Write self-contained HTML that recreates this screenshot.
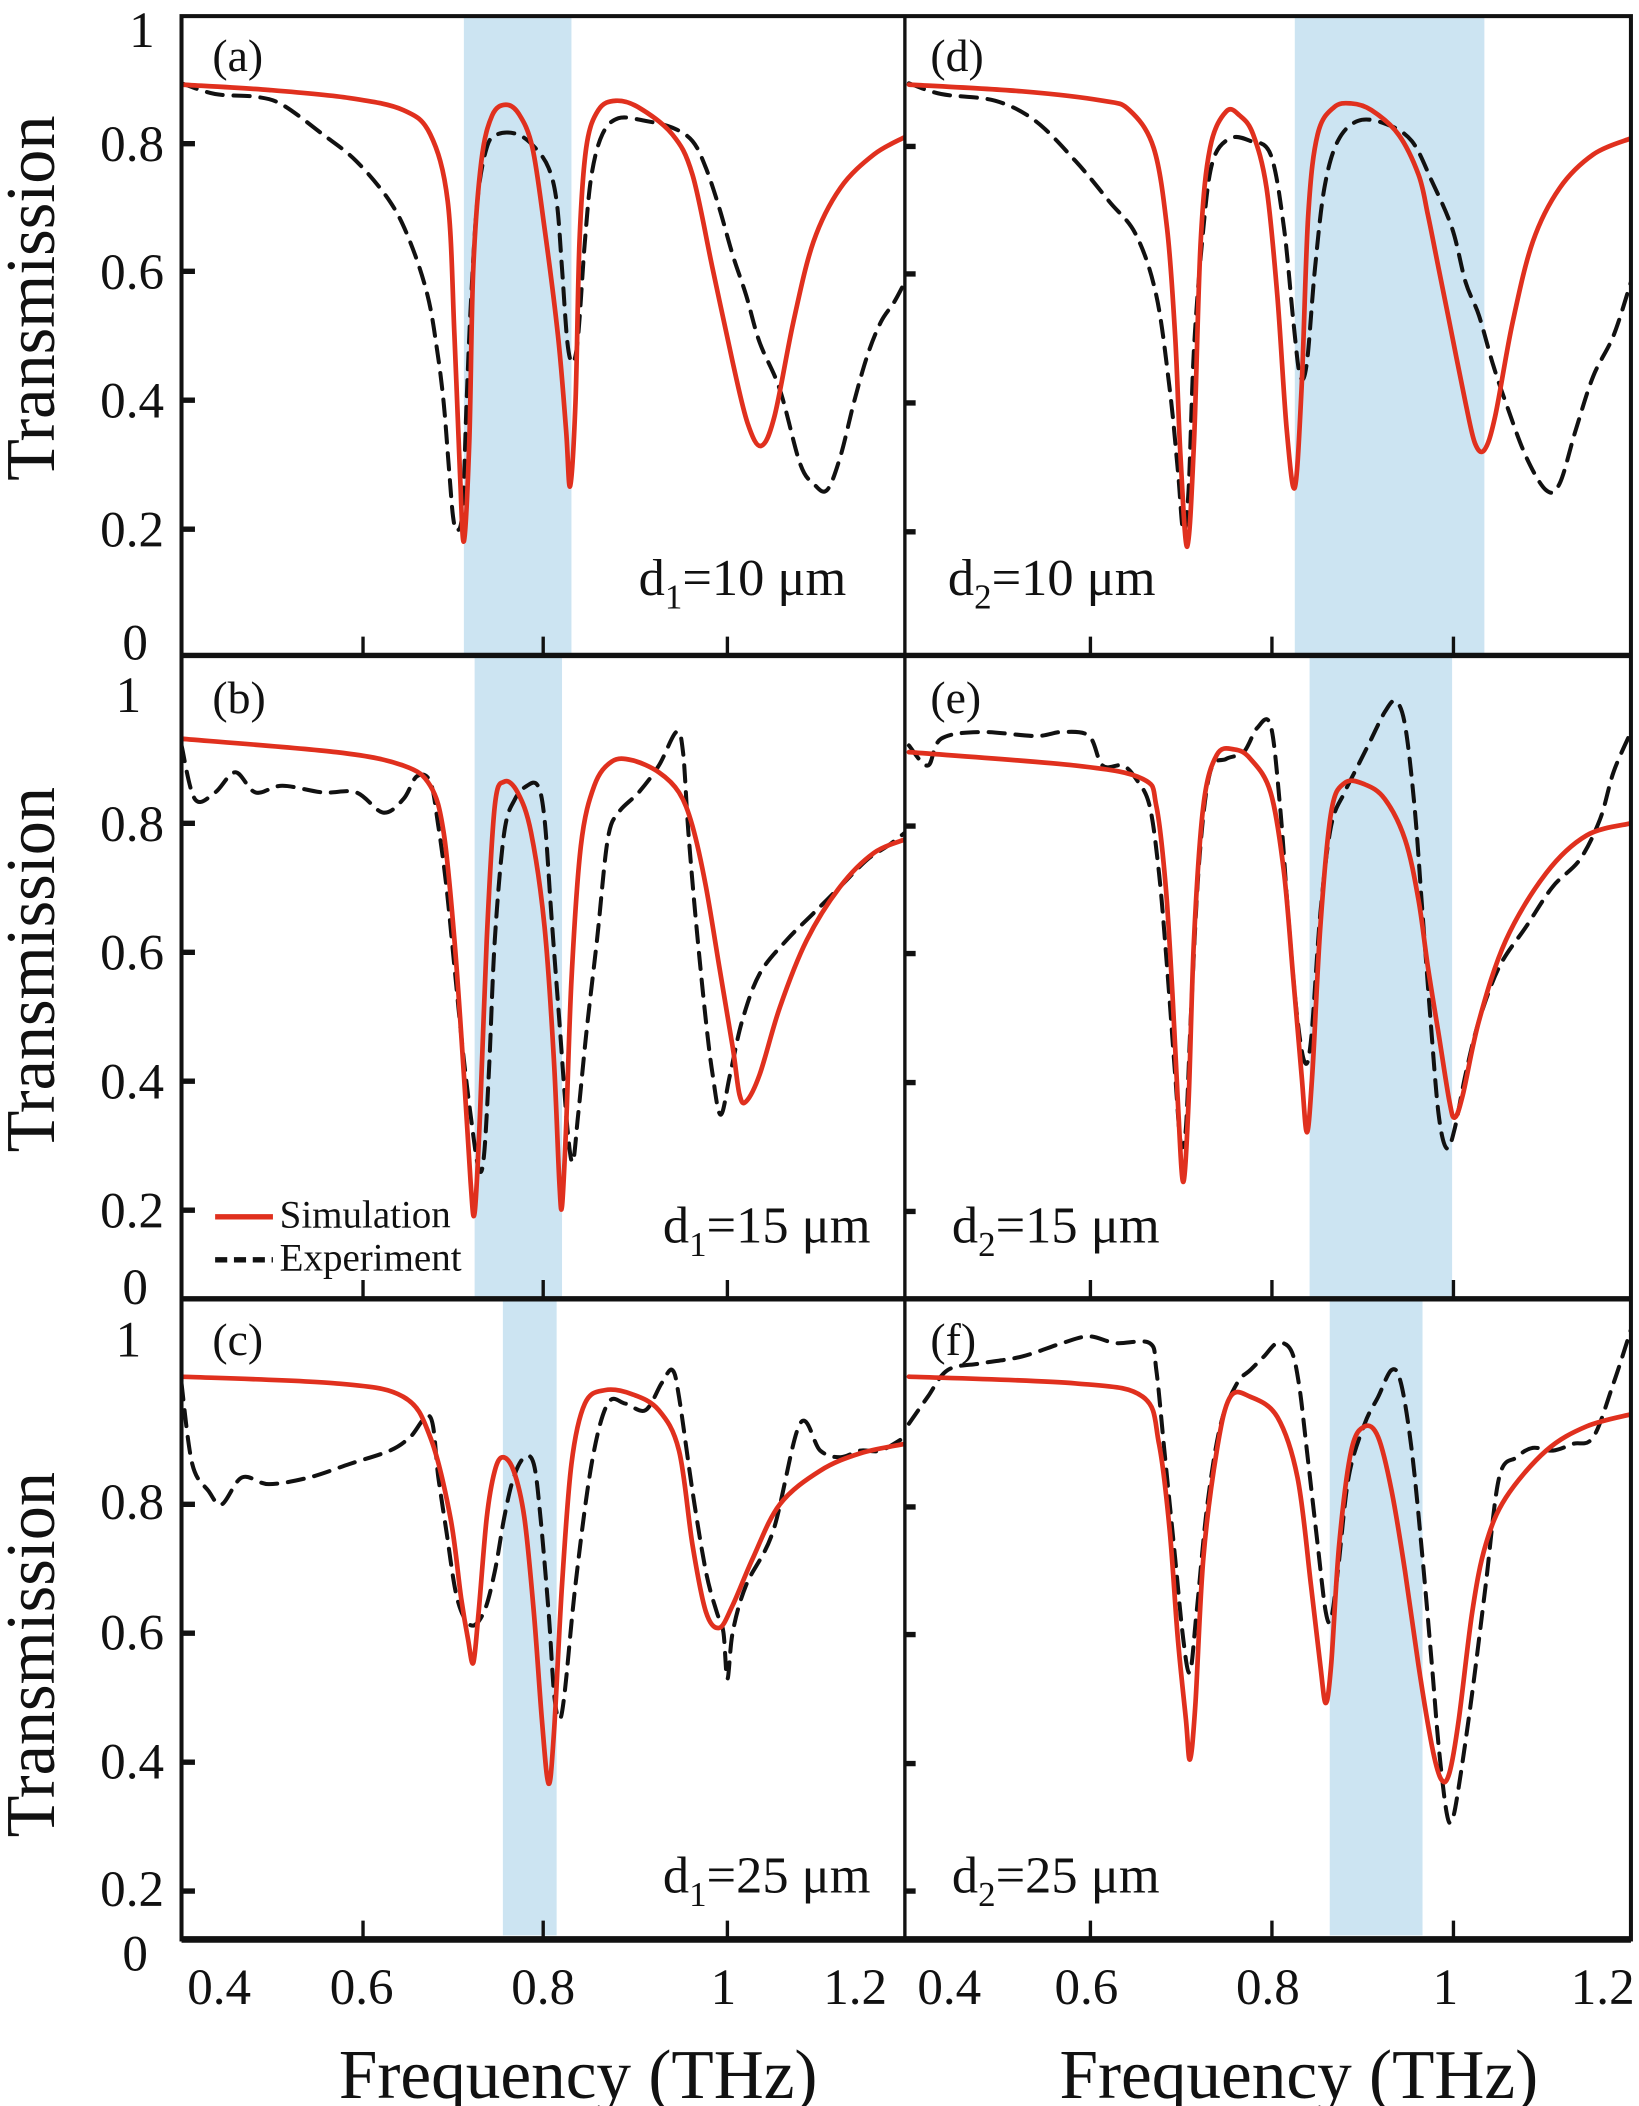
<!DOCTYPE html>
<html><head><meta charset="utf-8"><style>html,body{margin:0;padding:0;background:#fff}svg{display:block}</style></head><body>
<svg id="S" width="1639" height="2106" viewBox="0 0 1219 1568" preserveAspectRatio="none" xmlns="http://www.w3.org/2000/svg" font-family="'Liberation Serif', serif">
<defs>
<clipPath id="ca"><rect x="135" y="12" width="538" height="476"/></clipPath>
<clipPath id="cd"><rect x="673" y="12" width="540" height="476"/></clipPath>
<clipPath id="cb"><rect x="135" y="488" width="538" height="479"/></clipPath>
<clipPath id="ce"><rect x="673" y="488" width="540" height="479"/></clipPath>
<clipPath id="cc"><rect x="135" y="967" width="538" height="477"/></clipPath>
<clipPath id="cf"><rect x="673" y="967" width="540" height="477"/></clipPath>
</defs>
<g fill="#cce4f2">
<rect x="345" y="12" width="80" height="476"/>
<rect x="963" y="12" width="141" height="476"/>
<rect x="353" y="488" width="65" height="479"/>
<rect x="974" y="488" width="106" height="479"/>
<rect x="374" y="967" width="40" height="474"/>
<rect x="989" y="967" width="69" height="474"/>
</g>
<g fill="none" stroke-linejoin="round" stroke-linecap="round">
<g clip-path="url(#ca)">
<polyline stroke="#111" stroke-width="3" stroke-dasharray="12,8" points="135,62 160,70 190,72 210,78 240,100 265,120 290,150 305,180 318,220 325,260 330,300 334,350 337,385 340,395 344,380 347,300 350,230 355,150 362,110 370,100 385,100 398,110 408,125 414,150 418,200 422,255 426,270 430,250 435,180 440,130 448,100 460,88 480,90 500,95 515,105 525,125 535,155 545,190 555,220 565,255 580,290 595,345 605,360 615,365 625,340 635,300 645,265 655,240 665,225 673,210"/>
<polyline stroke="#e0301e" stroke-width="3.5" points="135,63 200,67 260,73 300,82 320,100 333,150 338,250 342,350 345,403 349,330 352,200 358,120 366,86 376,78 386,85 396,110 405,170 415,250 421,320 424,362 428,300 431,180 436,110 445,82 458,75 475,80 500,100 515,130 530,200 545,270 556,315 566,332 576,310 590,240 605,180 625,140 650,115 673,102"/>
</g>
<g clip-path="url(#cd)">
<polyline stroke="#111" stroke-width="3" stroke-dasharray="12,8" points="676,62 700,70 740,75 770,90 800,120 825,150 845,175 860,220 870,290 876,350 880,395 884,365 888,260 895,170 902,120 915,103 930,105 945,115 955,170 962,240 967,280 972,270 978,200 985,140 995,105 1010,90 1030,92 1050,105 1065,135 1080,170 1090,210 1100,235 1110,270 1120,300 1135,340 1150,365 1160,360 1172,320 1185,280 1200,250 1213,210"/>
<polyline stroke="#e0301e" stroke-width="3.5" points="676,63 760,68 820,75 840,82 858,110 868,170 874,250 878,340 883,407 888,330 893,180 900,110 912,83 922,86 932,100 942,140 950,220 957,320 963,363 968,290 973,160 980,100 992,80 1005,77 1020,82 1040,100 1055,130 1062,160 1070,200 1080,250 1090,300 1097,330 1104,335 1112,310 1125,240 1140,180 1160,140 1185,115 1213,103"/>
</g>
<g clip-path="url(#cb)">
<polyline stroke="#111" stroke-width="3" stroke-dasharray="12,8" points="135,555 145,595 160,590 175,575 190,590 210,585 240,590 265,590 285,605 300,595 310,578 320,582 326,615 332,660 338,720 344,780 350,830 356,870 360,860 364,790 368,700 375,620 383,595 392,585 400,585 405,610 410,680 416,760 422,840 426,865 430,830 436,770 444,700 452,625 460,605 475,590 490,570 503,545 508,560 512,620 518,690 525,760 530,800 536,830 543,800 552,760 565,725 585,700 605,680 625,660 645,640 660,630 673,620"/>
<polyline stroke="#e0301e" stroke-width="3.5" points="135,550 250,560 300,570 320,585 330,620 338,700 345,800 350,880 353,903 357,830 362,700 368,600 375,582 385,590 395,620 405,690 412,790 416,880 418,898 421,840 425,730 432,630 442,585 455,567 470,566 490,575 505,590 515,615 525,660 535,720 545,780 550,815 555,820 565,800 580,750 600,700 625,660 650,635 673,625"/>
</g>
<g clip-path="url(#ce)">
<polyline stroke="#111" stroke-width="3" stroke-dasharray="12,8" points="676,555 690,570 700,550 730,545 770,548 790,545 810,548 820,570 835,570 845,580 855,600 862,650 868,720 874,800 878,850 882,840 886,750 892,640 900,575 912,565 925,560 935,542 945,540 952,600 958,680 964,750 970,790 975,775 982,680 990,615 1000,590 1010,570 1020,550 1030,530 1038,522 1045,540 1052,600 1058,680 1064,760 1070,830 1076,855 1082,840 1090,800 1100,760 1115,720 1135,690 1155,660 1175,640 1190,610 1200,575 1213,545"/>
<polyline stroke="#e0301e" stroke-width="3.5" points="676,560 800,570 850,580 860,600 867,660 872,740 876,820 880,880 884,820 888,700 895,600 905,562 918,558 930,565 945,590 955,650 962,730 968,800 972,843 976,800 982,690 990,605 1000,583 1015,584 1030,595 1045,625 1055,670 1062,720 1070,770 1078,820 1082,832 1088,815 1100,760 1120,700 1150,650 1180,622 1213,613"/>
</g>
<g clip-path="url(#cc)">
<polyline stroke="#111" stroke-width="3" stroke-dasharray="12,8" points="135,1030 143,1090 155,1110 165,1120 180,1100 200,1105 230,1100 260,1090 290,1080 305,1070 320,1055 326,1100 332,1140 340,1190 350,1210 360,1200 368,1170 375,1130 382,1100 390,1085 397,1090 402,1130 408,1200 412,1260 416,1280 420,1260 428,1180 440,1090 452,1045 465,1045 480,1050 492,1030 500,1020 505,1040 515,1110 525,1170 533,1200 538,1215 541,1250 545,1215 555,1180 575,1140 595,1060 610,1080 625,1085 640,1080 655,1080 673,1070"/>
<polyline stroke="#e0301e" stroke-width="3.5" points="135,1025 250,1030 300,1040 320,1070 335,1130 343,1190 348,1220 352,1238 356,1200 362,1130 368,1095 374,1085 382,1095 390,1130 397,1200 403,1280 408,1328 412,1290 418,1180 425,1090 435,1045 450,1035 470,1038 490,1050 505,1080 515,1150 525,1200 535,1212 545,1195 560,1160 580,1120 610,1095 640,1082 673,1075"/>
</g>
<g clip-path="url(#cf)">
<polyline stroke="#111" stroke-width="3" stroke-dasharray="12,8" points="676,1060 690,1040 705,1020 730,1015 760,1010 790,1000 810,995 830,1000 855,1000 860,1020 866,1080 874,1160 880,1220 885,1245 890,1200 898,1120 908,1060 920,1030 930,1020 940,1010 950,1000 960,1005 966,1030 972,1080 980,1150 986,1200 990,1205 995,1170 1003,1100 1015,1060 1025,1040 1035,1020 1042,1030 1050,1080 1058,1160 1065,1240 1070,1300 1076,1350 1080,1355 1085,1330 1095,1260 1105,1180 1115,1100 1128,1085 1140,1078 1155,1080 1170,1075 1185,1070 1200,1030 1213,990"/>
<polyline stroke="#e0301e" stroke-width="3.5" points="676,1025 800,1030 850,1040 862,1075 870,1140 876,1220 882,1280 885,1310 889,1270 895,1160 905,1080 915,1040 930,1040 950,1055 965,1100 975,1180 982,1240 986,1268 990,1240 996,1150 1005,1080 1015,1062 1025,1070 1035,1110 1045,1170 1055,1240 1065,1300 1072,1325 1078,1320 1085,1280 1095,1200 1105,1150 1120,1115 1150,1080 1180,1062 1213,1053"/>
</g>
</g>
<g stroke="#111" fill="none">
<rect x="135" y="12" width="1078" height="1432" stroke-width="3"/>
<line x1="135" y1="488" x2="1213" y2="488" stroke-width="4"/>
<line x1="135" y1="967" x2="1213" y2="967" stroke-width="4"/>
<line x1="135" y1="1444" x2="1213" y2="1444" stroke-width="5"/>
<line x1="673" y1="12" x2="673" y2="1444" stroke-width="2.5"/>
<g stroke-width="2.5">
<path d="M270,488v-14M404,488v-14M541,488v-14M811,488v-14M946,488v-14M1081,488v-14"/>
<path d="M270,967v-14M404,967v-14M541,967v-14M811,967v-14M946,967v-14M1081,967v-14"/>
<path d="M270,1444v-14M404,1444v-14M541,1444v-14M811,1444v-14M946,1444v-14M1081,1444v-14"/>
</g>
<g stroke-width="4">
<path d="M135,107h10M135,202h10M135,298h10M135,394h10M673,109h8M673,204h8M673,300h8M673,396h8"/>
<path d="M135,613h10M135,709h10M135,805h10M135,901h10M673,615h8M673,710h8M673,806h8M673,902h8"/>
<path d="M135,1120h10M135,1216h10M135,1312h10M135,1408h10M673,1122h8M673,1217h8M673,1313h8M673,1408h8"/>
</g>
</g>
<g font-size="38" text-anchor="end" fill="#111">
<text x="115" y="35">1</text><text x="122" y="120">0.8</text><text x="122" y="215">0.6</text><text x="122" y="311">0.4</text><text x="122" y="407">0.2</text><text x="110" y="491">0</text>
<text x="105" y="530">1</text><text x="122" y="626">0.8</text><text x="122" y="722">0.6</text><text x="122" y="818">0.4</text><text x="122" y="914">0.2</text><text x="110" y="971">0</text>
<text x="105" y="1010">1</text><text x="122" y="1131">0.8</text><text x="122" y="1228">0.6</text><text x="122" y="1324">0.4</text><text x="122" y="1419">0.2</text><text x="110" y="1467">0</text>
</g>
<g font-size="38" text-anchor="middle" fill="#111">
<text x="163" y="1492">0.4</text><text x="269" y="1492">0.6</text><text x="404" y="1492">0.8</text><text x="538" y="1492">1</text><text x="636" y="1492">1.2</text>
<text x="706" y="1492">0.4</text><text x="808" y="1492">0.6</text><text x="943" y="1492">0.8</text><text x="1075" y="1492">1</text><text x="1192" y="1492">1.2</text>
</g>
<g font-size="52" fill="#111" text-anchor="middle">
<text x="430" y="1562" textLength="356" lengthAdjust="spacingAndGlyphs">Frequency (THz)</text>
<text x="966" y="1562" textLength="356" lengthAdjust="spacingAndGlyphs">Frequency (THz)</text>
<text transform="translate(40,222) rotate(-90)" textLength="272" lengthAdjust="spacingAndGlyphs">Transmission</text>
<text transform="translate(40,722) rotate(-90)" textLength="272" lengthAdjust="spacingAndGlyphs">Transmission</text>
<text transform="translate(40,1232) rotate(-90)" textLength="272" lengthAdjust="spacingAndGlyphs">Transmission</text>
</g>
<g font-size="34" fill="#111">
<text x="158" y="53">(a)</text><text x="692" y="53">(d)</text>
<text x="158" y="531">(b)</text><text x="692" y="531">(e)</text>
<text x="158" y="1009">(c)</text><text x="692" y="1009">(f)</text>
</g>
<g font-size="39" fill="#111">
<text x="475" y="443">d<tspan font-size="26" dy="10">1</tspan><tspan dy="-10">=10 μm</tspan></text>
<text x="705" y="443">d<tspan font-size="26" dy="10">2</tspan><tspan dy="-10">=10 μm</tspan></text>
<text x="493" y="925">d<tspan font-size="26" dy="10">1</tspan><tspan dy="-10">=15 μm</tspan></text>
<text x="708" y="925">d<tspan font-size="26" dy="10">2</tspan><tspan dy="-10">=15 μm</tspan></text>
<text x="493" y="1409">d<tspan font-size="26" dy="10">1</tspan><tspan dy="-10">=25 μm</tspan></text>
<text x="708" y="1409">d<tspan font-size="26" dy="10">2</tspan><tspan dy="-10">=25 μm</tspan></text>
</g>
<line x1="160" y1="906" x2="203" y2="906" stroke="#e0301e" stroke-width="4"/>
<line x1="160" y1="938" x2="203" y2="938" stroke="#111" stroke-width="4" stroke-dasharray="9,5"/>
<g font-size="29" fill="#111">
<text x="208" y="914">Simulation</text>
<text x="208" y="946">Experiment</text>
</g>
</svg>
<script>
(function(){
var NS="http://www.w3.org/2000/svg";
var pls=document.querySelectorAll("#S polyline");
for(var i=0;i<pls.length;i++){
 var pl=pls[i];
 var pts=pl.getAttribute("points").trim().split(/\s+/).map(function(s){var a=s.split(",");return [+a[0],+a[1]];});
 var d="M"+pts[0][0]+","+pts[0][1];
 var t=0.5/3;
 for(var k=0;k<pts.length-1;k++){
  var p0=pts[k-1]||pts[k],p1=pts[k],p2=pts[k+1],p3=pts[k+2]||p2;
  var c1x=p1[0]+(p2[0]-p0[0])*t,c1y=p1[1]+(p2[1]-p0[1])*t;
  var c2x=p2[0]-(p3[0]-p1[0])*t,c2y=p2[1]-(p3[1]-p1[1])*t;
  d+=" C"+c1x.toFixed(1)+","+c1y.toFixed(1)+" "+c2x.toFixed(1)+","+c2y.toFixed(1)+" "+p2[0]+","+p2[1];
 }
 var p=document.createElementNS(NS,"path");
 p.setAttribute("d",d);
 ["stroke","stroke-width","stroke-dasharray"].forEach(function(a){if(pl.getAttribute(a))p.setAttribute(a,pl.getAttribute(a));});
 pl.parentNode.replaceChild(p,pl);
}
})();
</script>
</body></html>
